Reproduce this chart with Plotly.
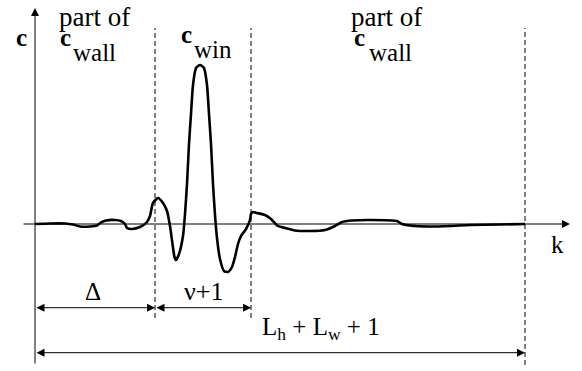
import plotly.graph_objects as go

# ---- data (k: horizontal index, c: amplitude) ----
k_curve = [0, 15, 30, 38, 45, 55, 62, 66, 71, 80, 86, 90, 92, 97, 105, 112, 115, 118,
           123, 128, 132, 135, 137.5, 139.5, 141, 144, 148, 150, 152, 154, 156, 158,
           161, 165, 169, 172, 174, 176, 178, 180, 182, 185, 189, 193, 197, 200, 203,
           206, 211, 215, 216, 218, 222, 230, 236, 243, 250, 260, 275, 290, 300, 307,
           317, 335, 362, 367, 375, 395, 415, 435, 465, 490]
c_curve = [0, 0.5, 0.5, -0.5, -2.5, -2.5, -1.5, 1.5, 3.5, 4, 3, 0, -4, -5, -3, 2,
           8, 21, 26, 21, 13, -2, -20, -33, -36, -30, -12, 10, 40, 80, 110, 139,
           156, 159, 156, 139, 110, 80, 40, 9, -14, -35, -47, -48, -43, -33, -20,
           -12, -5, 4, 10, 12, 11, 9, 5, -2, -4, -6.5, -7, -6, -2, 2, 3.5, 4, 3,
           0, -1.5, -2.5, -2, -1, -0.5, 0]

delta = 120          # length of the Delta segment
nu_plus_1 = 96       # length of the window segment
total = 490          # L_h + L_w + 1

FONT = "Liberation Serif, Times New Roman, serif"

fig = go.Figure()
fig.add_trace(go.Scatter(x=k_curve, y=c_curve, mode="lines",
                         line=dict(color="black", width=2.6, shape="spline", smoothing=0.6),
                         hoverinfo="skip", showlegend=False))

shapes = []
# dashed boundary lines
for xv, ybot in [(delta, -94), (delta + nu_plus_1, -94), (total, -141)]:
    shapes.append(dict(type="line", xref="x", yref="y", x0=xv, x1=xv, y0=ybot, y1=196,
                       line=dict(color="black", width=1, dash="5px,3px")))
fig.update_layout(shapes=shapes)

ann = []
def arrow(x0, y0, x1, y1, both=False):
    ann.append(dict(x=x1, y=y1, ax=x0, ay=y0, xref="x", yref="y", axref="x", ayref="y",
                    text="", showarrow=True, arrowhead=2, arrowsize=1.6, arrowwidth=1,
                    arrowcolor="black", standoff=0, startstandoff=0,
                    arrowside="end+start" if both else "end", startarrowhead=2,
                    startarrowsize=1.6))

# axes
arrow(0, -141, 0, 216)
arrow(-13, 0, 535, 0)
# dimension arrows
arrow(0, -83.7, delta, -83.7, both=True)
arrow(delta, -83.7, delta + nu_plus_1, -83.7, both=True)
arrow(0, -128.7, total, -128.7, both=True)

def label(x, y, t, size=25):
    ann.append(dict(x=x, y=y, xref="x", yref="y", text=t, showarrow=False,
                    xanchor="center", yanchor="middle",
                    font=dict(family=FONT, size=size, color="black")))

label(-14, 187, "<b>c</b>")
label(59, 207, "part of", size=27)
label(30, 187, "<b>c</b>")
label(59, 172, "wall")
label(151, 190, "<b>c</b>")
label(178, 175, "win")
label(351.5, 207, "part of", size=27)
label(324, 187, "<b>c</b>")
label(355.5, 172, "wall")
label(522.5, -20, "k")
label(58, -67, "Δ")
label(168.5, -67, "ν+1", size=26)
label(285.5, -104, "L<sub>h</sub> + L<sub>w</sub> + 1")

fig.update_layout(annotations=ann)

fig.update_layout(
    width=582, height=371, margin=dict(l=0, r=0, t=0, b=0),
    paper_bgcolor="white", plot_bgcolor="white",
    xaxis=dict(range=[-35, 547], visible=False, fixedrange=True),
    yaxis=dict(range=[-147, 224], visible=False, fixedrange=True),
)
fig.write_html("out.html")
